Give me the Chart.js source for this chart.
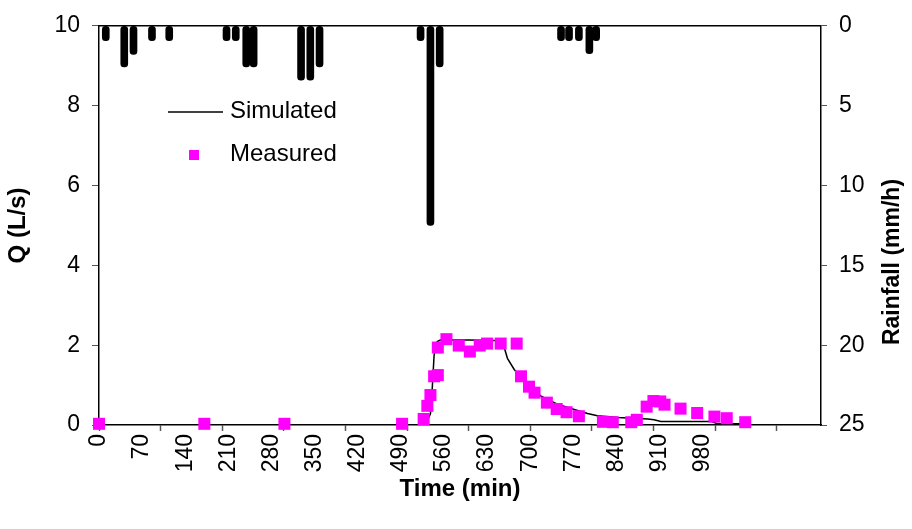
<!DOCTYPE html>
<html>
<head>
<meta charset="utf-8">
<script src="https://cdn.jsdelivr.net/npm/chart.js@4.4.1/dist/chart.umd.min.js"></script>
<style>
  body { margin: 0; background: #fff; }
  .chart-box { width: 912px; height: 529px; }
</style>
</head>
<body>
<div class="chart-box"><canvas class="chart-1"></canvas></div>
<script>
// simulated flow (line)
const simTime = [0, 527, 533, 538, 541, 544, 549, 554, 600, 655, 659, 663, 674, 690, 717, 744, 782, 793, 809, 842, 891, 901, 912, 993, 1004, 1049];
const simFlow = [0, 0, 0.11, 0.28, 0.93, 1.76, 2.09, 2.13, 2.13, 2.11, 1.88, 1.67, 1.39, 1.10, 0.73, 0.52, 0.34, 0.29, 0.23, 0.19, 0.15, 0.13, 0.09, 0.09, 0.03, 0.03];

// measured flow (squares)
const measTime = [0, 171, 301, 492, 527, 533, 538, 544, 550, 550, 564, 584, 602, 618, 630, 652, 678, 685, 698, 707, 727, 743, 759, 779, 818, 834, 864, 873, 889, 900, 911, 918, 944, 971, 999, 1019, 1049];
const measFlow = [0.03, 0.03, 0.03, 0.03, 0.15, 0.48, 0.75, 1.22, 1.25, 1.94, 2.15, 1.99, 1.84, 1.99, 2.04, 2.04, 2.04, 1.22, 0.96, 0.81, 0.56, 0.40, 0.32, 0.22, 0.08, 0.07, 0.07, 0.13, 0.46, 0.60, 0.59, 0.51, 0.41, 0.30, 0.21, 0.17, 0.07];

// rainfall (hanging bars on the right axis)
const rainTime = [11, 41, 56, 86, 114, 207, 222, 239, 251, 328, 343, 358, 522, 538, 553, 750, 763, 779, 796, 807];
const rainRate = [0.93, 2.57, 1.8, 0.93, 0.93, 0.93, 0.93, 2.57, 2.57, 3.4, 3.4, 2.57, 0.93, 12.5, 2.57, 0.93, 0.93, 0.93, 1.75, 0.93];

// axis ticks
const timeLabels = [0, 70, 140, 210, 280, 350, 420, 490, 560, 630, 700, 770, 840, 910, 980];
const timeMarks = [0, 100, 200, 300, 400, 500, 600, 700, 800, 900, 1000, 1100];
const flowTicks = [0, 2, 4, 6, 8, 10];
const rainTicks = [0, 5, 10, 15, 20, 25];

const FONT = "'Liberation Sans', Arial, sans-serif";
const chart1 = document.querySelector('.chart-1');

function toPoints(xs, ys) {
    return xs.map((x, i) => ({ x: x, y: ys[i] }));
}

// legend inside the plot + right title reading upwards + top frame line
const extras = {
    id: 'extras',
    afterDraw(chart) {
        const ctx = chart.ctx;
        const area = chart.chartArea;
        ctx.save();
        ctx.strokeStyle = '#000';
        ctx.lineWidth = 1.5;
        ctx.beginPath();
        ctx.moveTo(area.left, area.top);
        ctx.lineTo(area.right, area.top);
        ctx.stroke();

        // legend
        ctx.lineWidth = 1.5;
        ctx.beginPath();
        ctx.moveTo(168, 112);
        ctx.lineTo(223, 112);
        ctx.stroke();
        ctx.fillStyle = '#FF00FF';
        ctx.fillRect(189, 150, 10, 10);
        ctx.fillStyle = '#000';
        ctx.font = '24px ' + FONT;
        ctx.textBaseline = 'middle';
        ctx.textAlign = 'left';
        ctx.fillText(chart.data.datasets[0].label, 230, 111);
        ctx.fillText(chart.data.datasets[1].label, 230, 154);

        // right axis title
        ctx.translate(893, 262);
        ctx.rotate(-Math.PI / 2);
        ctx.textAlign = 'center';
        ctx.font = 'bold 23px ' + FONT;
        ctx.fillText('Rainfall (mm/h)', 0, 0);
        ctx.restore();
    }
};

new Chart(chart1, {
    data: {
        datasets: [{
            type: 'line',
            label: 'Simulated',
            data: toPoints(simTime, simFlow),
            borderColor: '#000',
            borderWidth: 1.5,
            pointRadius: 0,
            tension: 0,
            yAxisID: 'y',
            order: 1
        }, {
            type: 'line',
            label: 'Measured',
            data: toPoints(measTime, measFlow),
            showLine: false,
            clip: false,
            pointStyle: 'rect',
            pointRadius: 8.5,
            pointBackgroundColor: '#FF00FF',
            pointBorderColor: '#FF00FF',
            pointBorderWidth: 0,
            yAxisID: 'y',
            order: 0
        }, {
            type: 'bar',
            label: 'Rainfall',
            data: toPoints(rainTime, rainRate),
            backgroundColor: '#000',
            barThickness: 7,
            borderRadius: 3.5,
            borderSkipped: false,
            yAxisID: 'y2',
            order: 2
        }]
    },
    options: {
        responsive: true,
        maintainAspectRatio: false,
        animation: false,
        layout: { padding: { top: 20, left: 0, right: 0, bottom: 0 } },
        plugins: {
            legend: { display: false },
            tooltip: { enabled: false }
        },
        scales: {
            x: {
                type: 'linear',
                offset: false,
                min: 0,
                max: 1172,
                afterBuildTicks: (scale) => {
                    const vals = Array.from(new Set(timeLabels.concat(timeMarks))).sort((a, b) => a - b);
                    scale.ticks = vals.map(v => ({ value: v }));
                },
                afterFit: (scale) => { scale.height = 104; },
                ticks: {
                    autoSkip: false,
                    minRotation: 90,
                    maxRotation: 90,
                    padding: 3,
                    color: '#000',
                    font: { family: FONT, size: 23 },
                    callback: (v) => timeLabels.includes(v) ? String(v) : ''
                },
                grid: {
                    offset: false,
                    drawOnChartArea: false,
                    tickLength: 6,
                    tickWidth: 1.5,
                    tickColor: (c) => (c.tick && timeMarks.includes(c.tick.value)) ? '#555' : 'rgba(0,0,0,0)'
                },
                border: { color: '#000', width: 1.5 },
                title: {
                    display: true,
                    text: 'Time (min)',
                    color: '#000',
                    font: { family: FONT, size: 24, weight: 'bold' },
                    padding: { top: 0, bottom: 25 }
                }
            },
            y: {
                position: 'left',
                min: 0,
                max: 10,
                afterBuildTicks: (scale) => { scale.ticks = flowTicks.map(v => ({ value: v })); },
                afterFit: (scale) => { scale.width = 99; },
                ticks: {
                    padding: 12,
                    color: '#000',
                    font: { family: FONT, size: 23 }
                },
                grid: {
                    drawOnChartArea: false,
                    tickLength: 7,
                    tickWidth: 1,
                    tickColor: '#555'
                },
                border: { color: '#000', width: 1.5 },
                title: {
                    display: true,
                    text: 'Q (L/s)',
                    color: '#000',
                    font: { family: FONT, size: 24, weight: 'bold' },
                    padding: { top: 4, bottom: 0 }
                }
            },
            y2: {
                position: 'right',
                reverse: true,
                min: 0,
                max: 25,
                afterBuildTicks: (scale) => { scale.ticks = rainTicks.map(v => ({ value: v })); },
                afterFit: (scale) => { scale.width = 91; },
                ticks: {
                    padding: 12,
                    color: '#000',
                    font: { family: FONT, size: 23 }
                },
                grid: {
                    drawOnChartArea: false,
                    tickLength: 6,
                    tickWidth: 1,
                    tickColor: '#555'
                },
                border: { color: '#000', width: 1.5 }
            }
        }
    },
    plugins: [extras]
});
</script>
</body>
</html>
